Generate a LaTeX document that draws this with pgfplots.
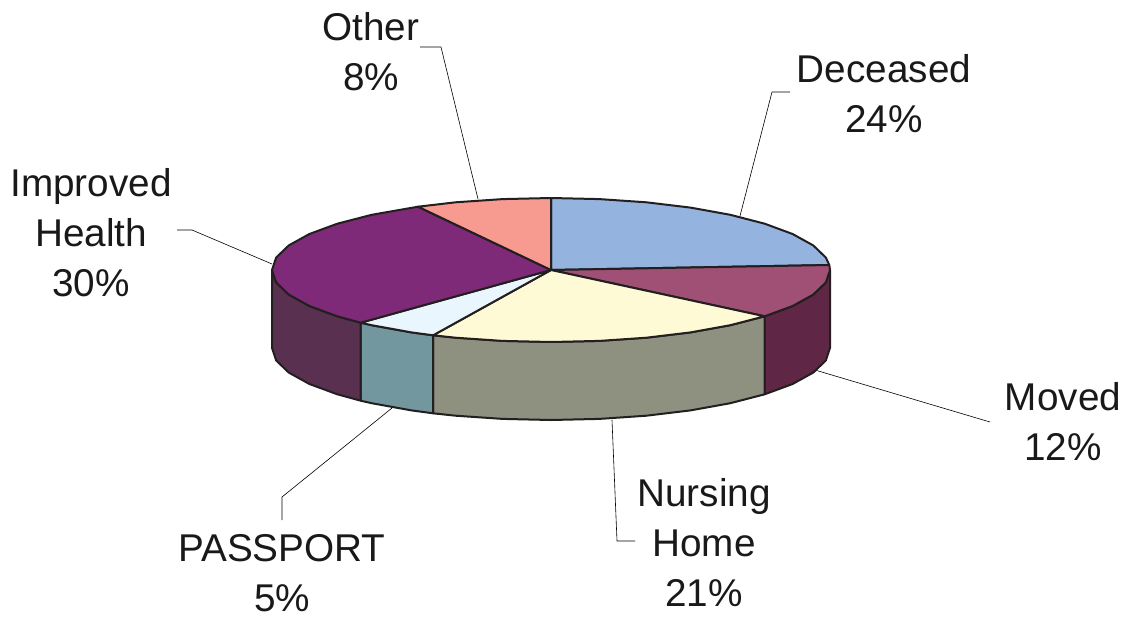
\documentclass[border=0pt]{standalone}
\usepackage{fontspec}
\setmainfont{Liberation Sans}
\usepackage{pgfplots}
\pgfplotsset{compat=1.18}
\definecolor{edge}{HTML}{231F20}
\definecolor{cDec}{HTML}{95B3DF}
\definecolor{cMov}{HTML}{A05075}
\definecolor{cNur}{HTML}{FFFAD6}
\definecolor{cPas}{HTML}{EAF6FE}
\definecolor{cImp}{HTML}{7F2A78}
\definecolor{cOth}{HTML}{F79A8F}
\definecolor{wMov}{HTML}{5F2645}
\definecolor{wNur}{HTML}{8E9080}
\definecolor{wPas}{HTML}{72979E}
\definecolor{wImp}{HTML}{5A3050}
\tikzset{
  slice/.style={draw=edge, line width=2pt},
  leader/.style={draw=black, line width=0.6pt},
  lbl/.style={font=\fontsize{38.7}{50}\selectfont, align=center, text=black!90, inner sep=0pt},
}
\begin{document}
\begin{tikzpicture}
\begin{axis}[
    width=1130pt, height=616pt, scale only axis,
    xmin=0, xmax=1130, ymin=0, ymax=616, y dir=reverse,
    hide axis, clip=false,
    every axis plot/.append style={mark=none, line join=round},
  ]
  % leader lines
  \addplot[leader] coordinates {(420,47) (441,47) (478,199)};
  \addplot[leader] coordinates {(790,92) (772,92) (740,216)};
  \addplot[leader] coordinates {(177,230) (192,230) (272,264)};
  \addplot[leader] coordinates {(990,422) (815,370)};
  \addplot[leader] coordinates {(635,541) (617,541) (612,420)};
  \addplot[leader] coordinates {(282,520) (282,497) (392,408)};

  % side walls
  \addplot[slice, fill=wMov] coordinates {
    (830,270) (825.8,282.5) (813.2,294.6) (792.6,306) (764.7,316.3)
    (764.7,394.3) (792.6,384) (813.2,372.6) (825.8,360.5) (830,348) (830,270)};
  \addplot[slice, fill=wNur] coordinates {
    (764.7,316.3) (730.3,325.2) (690.5,332.4) (646.4,337.7) (599.4,340.9) (551,342)
    (502.6,340.9) (455.6,337.7) (433.1,335.3)
    (433.1,413.3) (455.6,415.7) (502.6,418.9) (551,420) (599.4,418.9) (646.4,415.7)
    (690.5,410.4) (730.3,403.2) (764.7,394.3) (764.7,316.3)};
  \addplot[slice, fill=wPas] coordinates {
    (433.1,335.3) (411.5,332.4) (371.7,325.2) (360.7,322.7)
    (360.7,400.7) (371.7,403.2) (411.5,410.4) (433.1,413.3) (433.1,335.3)};
  \addplot[slice, fill=wImp] coordinates {
    (360.7,322.7) (337.3,316.3) (309.4,306) (288.8,294.6) (276.2,282.5) (272,270)
    (272,348) (276.2,360.5) (288.8,372.6) (309.4,384) (337.3,394.3) (360.7,400.7) (360.7,322.7)};

  % top slices
  \addplot[slice, fill=cDec] coordinates {
    (551,270) (551,198) (599.4,199.1) (646.4,202.3) (690.5,207.6) (730.3,214.8) (764.7,223.7)
    (792.6,234) (813.2,245.4) (825.8,257.5) (829.3,265) (551,270)};
  \addplot[slice, fill=cMov] coordinates {
    (551,270) (829.3,265) (830,270) (825.8,282.5) (813.2,294.6) (792.6,306) (764.7,316.3) (551,270)};
  \addplot[slice, fill=cNur] coordinates {
    (551,270) (764.7,316.3) (730.3,325.2) (690.5,332.4) (646.4,337.7) (599.4,340.9) (551,342)
    (502.6,340.9) (455.6,337.7) (433.1,335.3) (551,270)};
  \addplot[slice, fill=cPas] coordinates {
    (551,270) (433.1,335.3) (411.5,332.4) (371.7,325.2) (360.7,322.7) (551,270)};
  \addplot[slice, fill=cImp] coordinates {
    (551,270) (360.7,322.7) (337.3,316.3) (309.4,306) (288.8,294.6) (276.2,282.5) (272,270)
    (276.2,257.5) (288.8,245.4) (309.4,234) (337.3,223.7) (371.7,214.8) (418,206.7) (551,270)};
  \addplot[slice, fill=cOth] coordinates {
    (551,270) (418,206.7) (455.6,202.3) (502.6,199.1) (551,198) (551,270)};

  % labels
  \node[lbl] at (axis cs:371,52) {Other\\8\%};
  \node[lbl] at (axis cs:884,93.5) {Deceased\\24\%};
  \node[lbl] at (axis cs:91,233) {Improved\\Health\\30\%};
  \node[lbl] at (axis cs:1063,422) {Moved\\12\%};
  \node[lbl] at (axis cs:704,543) {Nursing\\Home\\21\%};
  \node[lbl] at (axis cs:282,573) {PASSPORT\\5\%};
\end{axis}
% page is exactly the reference's area
\pgfresetboundingbox
\path[use as bounding box] (0,0) rectangle (1130pt,616pt);
\end{tikzpicture}
\end{document}
